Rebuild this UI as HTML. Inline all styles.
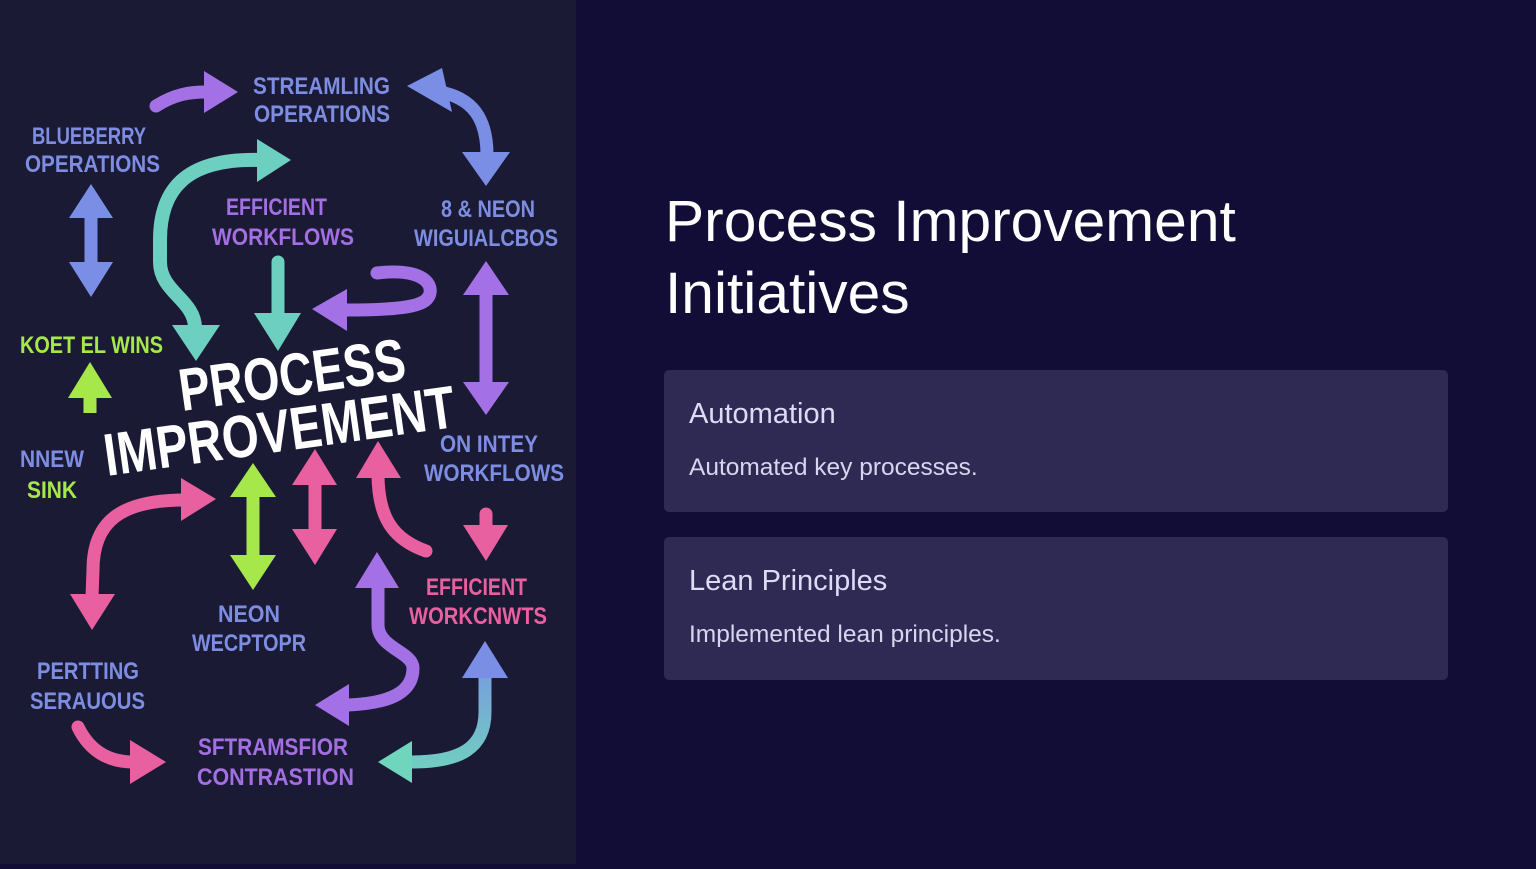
<!DOCTYPE html>
<html>
<head>
<meta charset="utf-8">
<style>
  html, body { margin: 0; padding: 0; }
  body {
    width: 1536px; height: 864px; overflow: hidden; position: relative;
    background: #120d36;
    font-family: "Liberation Sans", Arial, sans-serif;
  }
  #left { position: absolute; left: 0; top: 0; width: 576px; height: 864px; background: #1b1a35; }
  #title {
    position: absolute; left: 665px; top: 186px;
    font-size: 58.7px; line-height: 72px; color: #ffffff; font-weight: 400;
    white-space: nowrap;
  }
  .card {
    position: absolute; left: 664px; width: 784px; height: 142px;
    background: #2f2a53; border-radius: 5px;
  }
  .card h3 {
    position: absolute; left: 25px; top: 27px; margin: 0;
    font-size: 29px; line-height: 34px; font-weight: 400; color: #dcdcf6; white-space: nowrap;
  }
  .card p {
    position: absolute; left: 25px; top: 83px; margin: 0;
    font-size: 24.5px; line-height: 30px; color: #d6d6f0; white-space: nowrap;
  }
  svg text { font-family: "Liberation Sans", Arial, sans-serif; font-weight: 700; }
</style>
</head>
<body>
<div id="left">
<svg width="576" height="864" viewBox="0 0 576 864" xmlns="http://www.w3.org/2000/svg">
  <defs>
    <linearGradient id="gbt" x1="0" y1="640" x2="0" y2="785" gradientUnits="userSpaceOnUse">
      <stop offset="0" stop-color="#7b8ee6"/>
      <stop offset="1" stop-color="#6fd6bd"/>
    </linearGradient>
  </defs>
  <g fill="none" stroke-width="13" stroke-linecap="round" stroke-linejoin="round">
    <path d="M156,106 C175,94 190,92 206,92" stroke="#a470e6"/>
    <path d="M440,92 C472,98 487,118 487,155" stroke="#7b8ee6"/>
    <path d="M91,215 L91,265" stroke="#7b8ee6"/>
    <path d="M260,160 C185,158 160,190 160,240 L160,262 C160,292 195,300 195,328" stroke="#6ccfbf" stroke-width="14"/>
    <path d="M278,262 L278,318" stroke="#6ccfbf"/>
    <path d="M377,273 C420,268 432,282 430,293 C428,305 410,310 346,310" stroke="#a470e6"/>
    <path d="M486,292 L486,385" stroke="#a470e6"/>
    <path d="M90,396 L90,413" stroke="#a6e84a" stroke-linecap="butt"/>
    <path d="M185,500 C120,500 93,522 93,570 L92,597" stroke="#e8609f"/>
    <path d="M253,495 L253,557" stroke="#a6e84a"/>
    <path d="M315,483 L315,531" stroke="#e8609f"/>
    <path d="M378,474 C378,520 395,540 426,551" stroke="#e8609f"/>
    <path d="M486,514 L486,528" stroke="#e8609f"/>
    <path d="M378,585 L378,625 C378,648 413,652 413,668 C413,690 395,703 348,705" stroke="#a470e6"/>
    <path d="M485,675 L485,712 C485,748 460,762 412,762" stroke="url(#gbt)"/>
    <path d="M78,727 C90,752 110,762 133,762" stroke="#e8609f"/>
  </g>
  <g stroke="none">
    <polygon points="204,71 238,92 204,113" fill="#a470e6"/>
    <polygon points="407,86 442,68 452,112" fill="#7b8ee6"/>
    <polygon points="462,152 510,152 486,186" fill="#7b8ee6"/>
    <polygon points="69,218 113,218 91,184" fill="#7b8ee6"/>
    <polygon points="69,262 113,262 91,297" fill="#7b8ee6"/>
    <polygon points="257,139 291,160 257,182" fill="#6ccfbf"/>
    <polygon points="172,325 220,325 196,361" fill="#6ccfbf"/>
    <polygon points="254,313 301,313 278,351" fill="#6ccfbf"/>
    <polygon points="347,289 312,309 347,331" fill="#a470e6"/>
    <polygon points="463,295 509,295 486,261" fill="#a470e6"/>
    <polygon points="463,382 509,382 486,415" fill="#a470e6"/>
    <polygon points="68,398 112,398 90,362" fill="#a6e84a"/>
    <polygon points="181,478 216,499 181,521" fill="#e8609f"/>
    <polygon points="70,594 115,594 92,630" fill="#e8609f"/>
    <polygon points="230,497 276,497 253,463" fill="#a6e84a"/>
    <polygon points="230,555 276,555 253,590" fill="#a6e84a"/>
    <polygon points="292,485 337,485 315,449" fill="#e8609f"/>
    <polygon points="292,529 337,529 315,565" fill="#e8609f"/>
    <polygon points="356,478 401,478 378,441" fill="#e8609f"/>
    <polygon points="463,525 508,525 486,561" fill="#e8609f"/>
    <polygon points="355,588 399,588 377,552" fill="#a470e6"/>
    <polygon points="349,684 315,705 349,726" fill="#a470e6"/>
    <polygon points="462,678 508,678 485,641" fill="#7b8ee6"/>
    <polygon points="412,741 378,762 412,783" fill="#6fd6bd"/>
    <polygon points="130,740 166,762 130,784" fill="#e8609f"/>
  </g>

  <g font-size="24">
    <text x="253" y="94" textLength="137" lengthAdjust="spacingAndGlyphs" fill="#7d8de2">STREAMLING</text>
    <text x="254" y="122" textLength="136" lengthAdjust="spacingAndGlyphs" fill="#7d8de2">OPERATIONS</text>
    <text x="32" y="144" textLength="114" lengthAdjust="spacingAndGlyphs" fill="#7d8de2">BLUEBERRY</text>
    <text x="25" y="172" textLength="135" lengthAdjust="spacingAndGlyphs" fill="#7d8de2">OPERATIONS</text>
    <text x="226" y="215" textLength="101" lengthAdjust="spacingAndGlyphs" fill="#a36fe2">EFFICIENT</text>
    <text x="212" y="245" textLength="142" lengthAdjust="spacingAndGlyphs" fill="#a36fe2">WORKFLOWS</text>
    <text x="441" y="217" textLength="94" lengthAdjust="spacingAndGlyphs" fill="#7d8de2">8 &amp; NEON</text>
    <text x="414" y="246" textLength="144" lengthAdjust="spacingAndGlyphs" fill="#7d8de2">WIGUIALCBOS</text>
    <text x="20" y="353" textLength="143" lengthAdjust="spacingAndGlyphs" fill="#a6e84a">KOET EL WINS</text>
    <text x="20" y="467" textLength="64" lengthAdjust="spacingAndGlyphs" fill="#7d8de2">NNEW</text>
    <text x="27" y="498" textLength="50" lengthAdjust="spacingAndGlyphs" fill="#a6e84a">SINK</text>
    <text x="440" y="452" textLength="98" lengthAdjust="spacingAndGlyphs" fill="#7d8de2">ON INTEY</text>
    <text x="424" y="481" textLength="140" lengthAdjust="spacingAndGlyphs" fill="#7d8de2">WORKFLOWS</text>
    <text x="426" y="595" textLength="101" lengthAdjust="spacingAndGlyphs" fill="#e8609f">EFFICIENT</text>
    <text x="409" y="624" textLength="138" lengthAdjust="spacingAndGlyphs" fill="#e8609f">WORKCNWTS</text>
    <text x="218" y="622" textLength="62" lengthAdjust="spacingAndGlyphs" fill="#7d8de2">NEON</text>
    <text x="192" y="651" textLength="114" lengthAdjust="spacingAndGlyphs" fill="#7d8de2">WECPTOPR</text>
    <text x="37" y="679" textLength="102" lengthAdjust="spacingAndGlyphs" fill="#7d8de2">PERTTING</text>
    <text x="30" y="709" textLength="115" lengthAdjust="spacingAndGlyphs" fill="#7d8de2">SERAUOUS</text>
    <text x="198" y="755" textLength="150" lengthAdjust="spacingAndGlyphs" fill="#a36fe2">SFTRAMSFIOR</text>
    <text x="197" y="785" textLength="157" lengthAdjust="spacingAndGlyphs" fill="#a36fe2">CONTRASTION</text>
  </g>

  <g font-size="60" fill="#ffffff">
    <text x="182" y="411" textLength="228" lengthAdjust="spacingAndGlyphs" transform="rotate(-8 182 411)">PROCESS</text>
    <text x="107" y="476" textLength="354" lengthAdjust="spacingAndGlyphs" transform="rotate(-8 107 476)">IMPROVEMENT</text>
  </g>
</svg>
</div>

<div id="title">Process Improvement<br>Initiatives</div>

<div class="card" style="top:370px;">
  <h3>Automation</h3>
  <p>Automated key processes.</p>
</div>
<div class="card" style="top:537px; height:143px;">
  <h3>Lean Principles</h3>
  <p>Implemented lean principles.</p>
</div>
</body>
</html>
